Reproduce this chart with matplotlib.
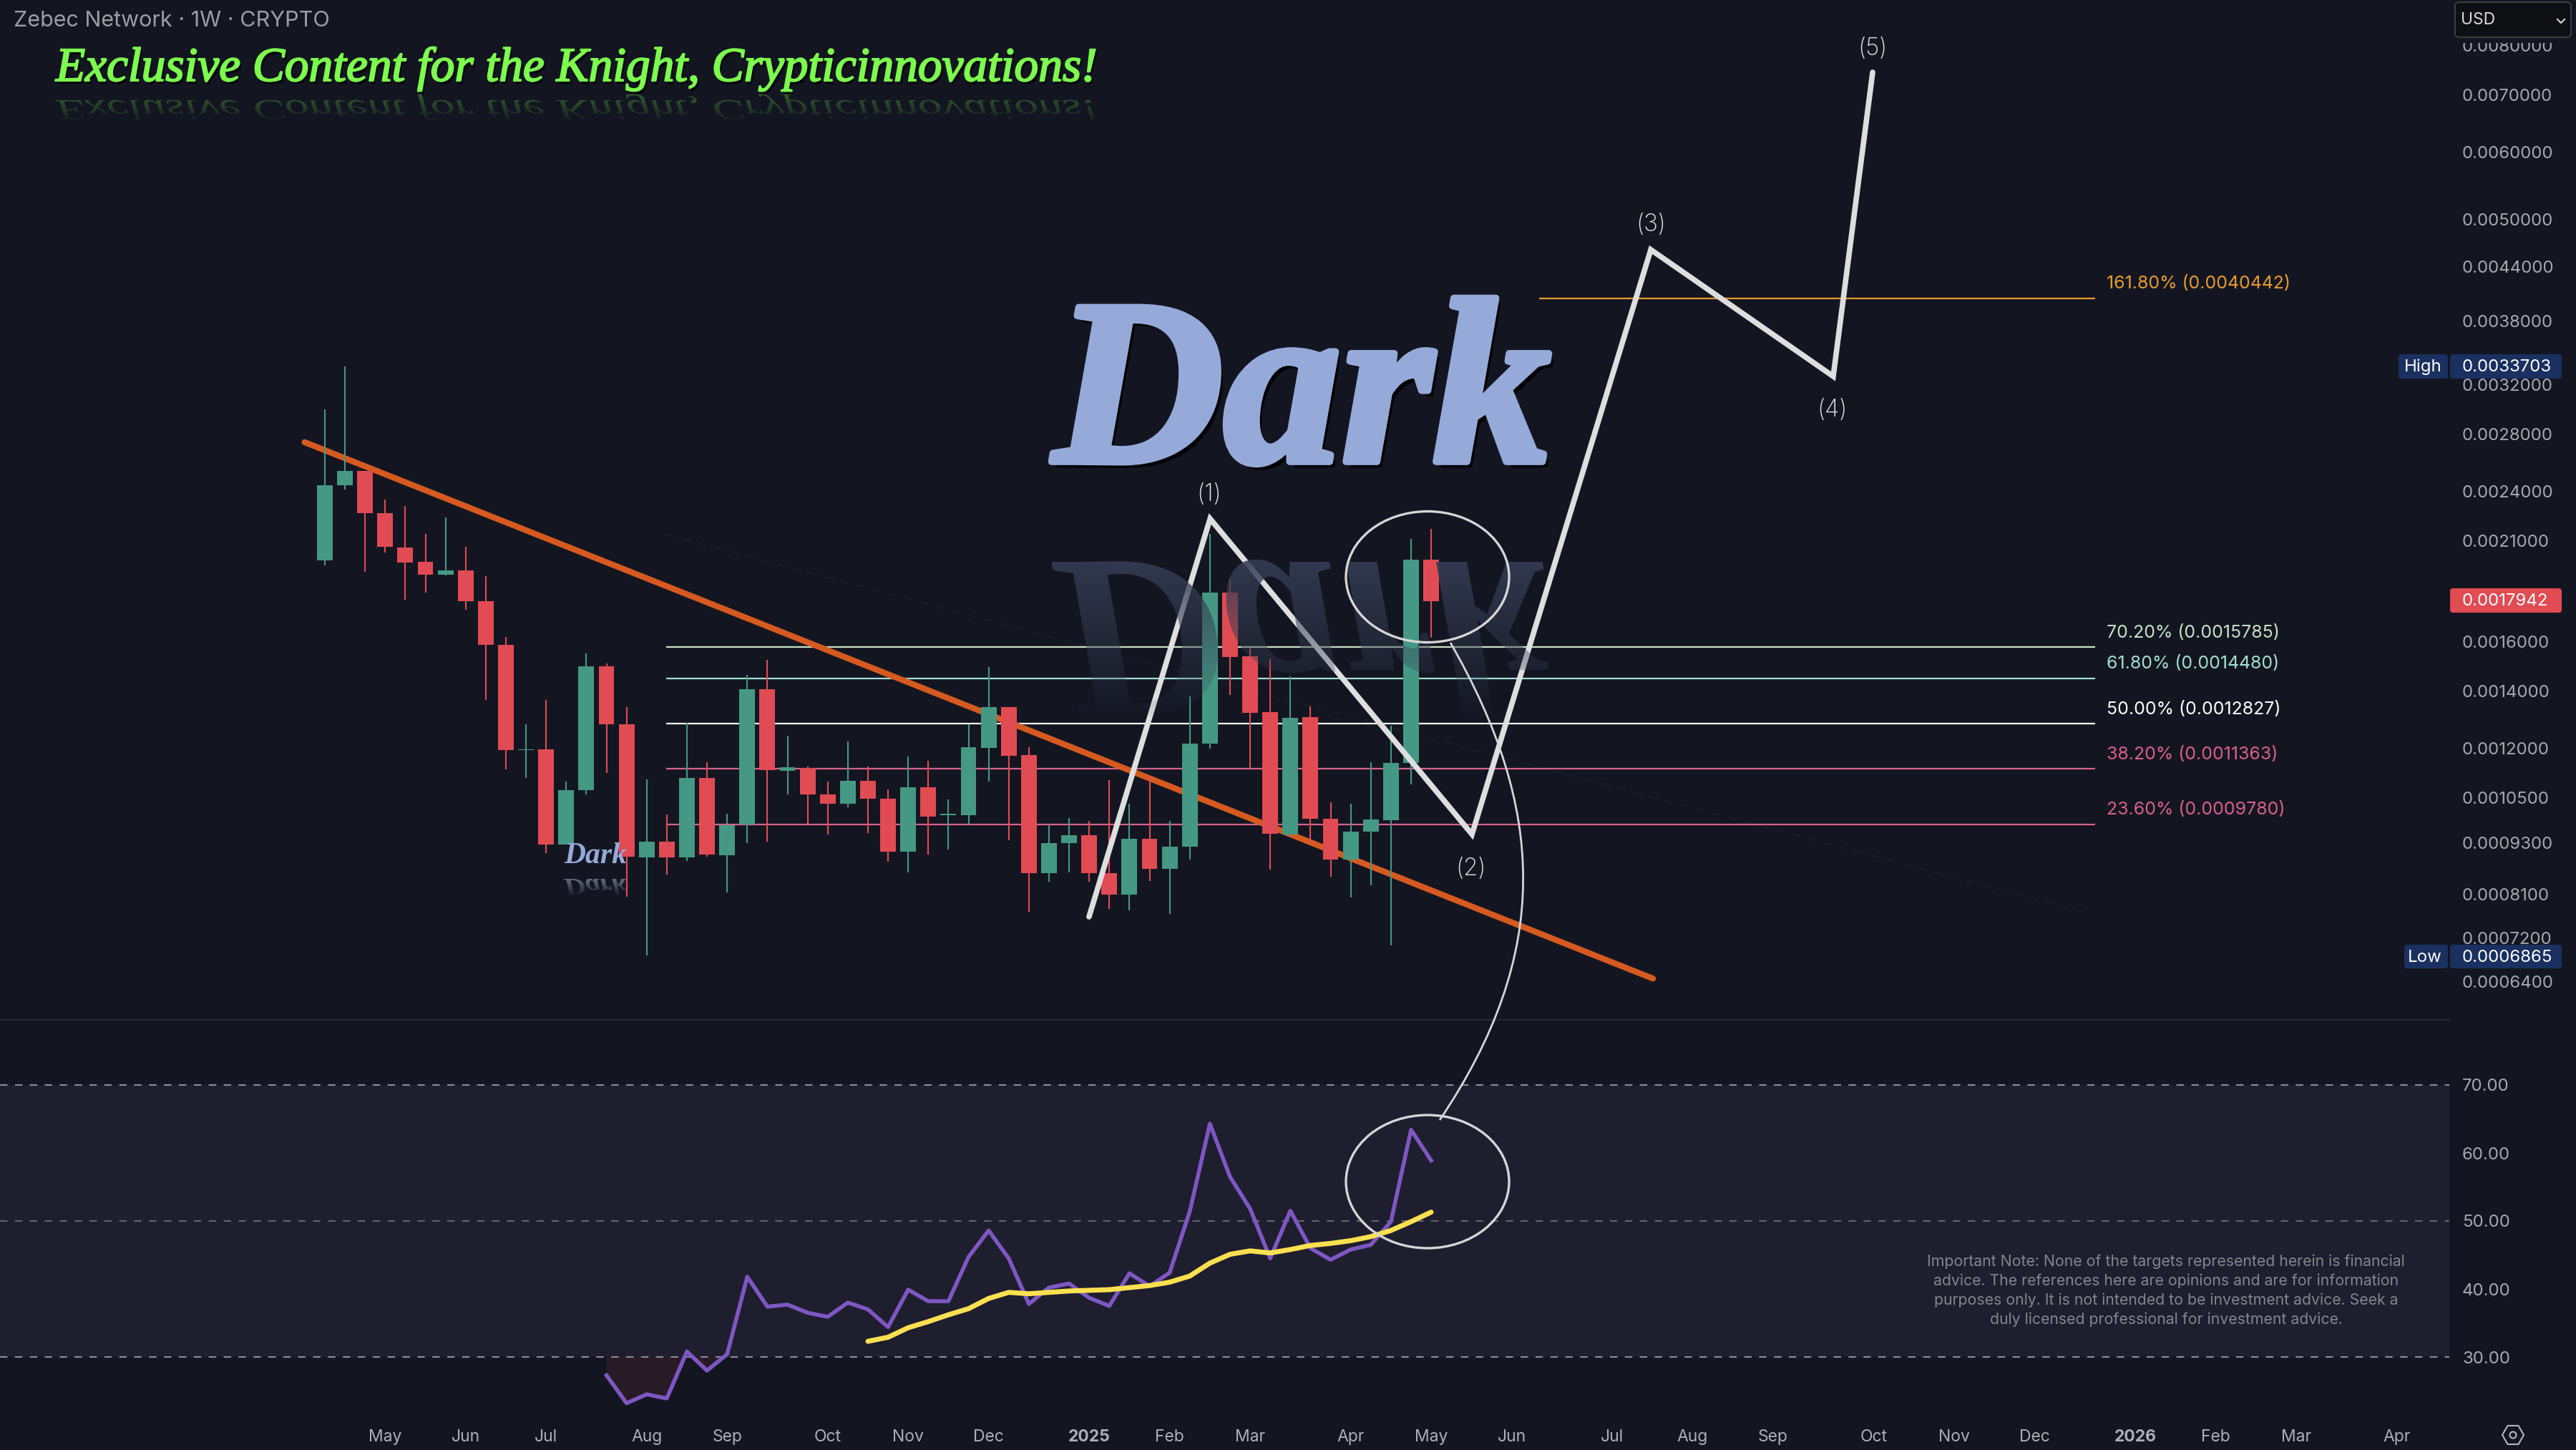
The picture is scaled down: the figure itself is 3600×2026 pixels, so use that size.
import numpy as np
import matplotlib
matplotlib.use('Agg')
import matplotlib.pyplot as plt
import matplotlib.patheffects as pe
from matplotlib.font_manager import FontProperties
from matplotlib.patches import Ellipse, FancyBboxPatch, PathPatch, Rectangle, RegularPolygon, Circle
from matplotlib.path import Path
from matplotlib.text import TextPath
from matplotlib.transforms import Affine2D
from matplotlib.colors import to_rgb

plt.rcParams['font.family'] = ['Inter', 'DejaVu Sans']

# weekly candles, prices in units of 0.0001
high = [29.97,33.64,25.38,23.49,23.1,21.42,22.37,20.68,19.09,16.2,12.81,13.68,10.98,15.5,15.08,13.42,11.03,10.04,12.85,11.56,10.06,14.63,15.25,12.42,11.43,10.98,12.22,11.43,10.75,11.74,11.6,10.45,12.81,14.95,13.41,12.04,9.78,9.94,9.87,11.02,10.33,11.14,9.87,13.8,21.4,18.95,15.72,15.28,14.58,13.45,10.38,10.33,11.56,12.77,21.13,21.69]
body_top = [24.42,25.38,25.38,22.62,20.63,19.85,19.41,19.41,17.84,15.88,11.97,11.97,10.72,14.99,14.98,12.8,9.34,9.34,11.09,11.09,9.75,14.09,14.09,11.4,11.38,10.61,10.99,11.0,10.48,10.81,10.81,10.06,12.03,13.41,13.41,11.78,9.3,9.49,9.49,8.58,9.4,9.4,9.2,12.16,18.26,18.26,15.39,13.23,13.03,13.05,9.93,9.59,9.9,11.53,19.97,19.97]
body_bot = [19.94,24.42,22.62,20.66,19.8,19.18,19.18,17.84,15.88,11.95,11.95,9.26,9.26,10.72,12.8,8.96,8.94,8.94,8.94,9.01,9.0,9.77,11.32,11.3,10.61,10.34,10.34,10.47,9.08,9.08,9.99,10.03,10.03,12.02,11.77,8.57,8.57,9.29,8.57,8.09,8.09,8.67,8.67,9.2,12.15,15.37,13.22,9.53,9.52,9.93,8.89,8.89,9.58,9.89,11.53,17.87]
low = [19.65,24.12,19.33,20.36,17.92,18.26,19.13,17.43,13.69,11.35,11.09,9.05,9.26,10.61,11.24,8.05,6.86,8.54,8.86,8.96,8.13,9.29,9.34,10.6,9.79,9.51,10.23,9.55,8.84,8.59,9.01,9.13,9.78,10.97,9.36,7.73,8.38,8.59,8.37,7.79,7.76,8.4,7.68,8.89,12.0,13.86,11.36,8.65,9.44,9.32,8.49,8.02,8.3,7.05,10.9,16.18]
bullish = [0,1,6,10,12,13,16,18,20,21,23,26,29,31,32,33,36,37,40,42,43,44,48,51,52,53,54]

rsi_start = 14
rsi = [27.3,23.2,24.5,23.9,30.8,28.0,30.4,41.8,37.4,37.7,36.5,35.9,38.0,37.0,34.4,39.9,38.2,38.2,44.7,48.6,44.5,37.8,40.2,40.8,38.7,37.5,42.3,40.4,42.4,51.4,64.3,56.5,51.8,44.5,51.5,46.0,44.3,45.8,46.5,49.9,63.4,58.9]
ma_start = 27
rsi_ma = [32.3,32.9,34.3,35.2,36.2,37.1,38.6,39.5,39.3,39.5,39.7,39.8,39.9,40.2,40.5,41.0,41.9,43.8,45.1,45.6,45.3,45.8,46.4,46.7,47.1,47.7,48.6,49.9,51.3]

wave_x = [37.99,44.01,57.03,65.92,74.99,76.95]
wave_y = [7.62,22.3,9.52,46.09,32.75,74.39]
wave_labels = ['(1)','(2)','(3)','(4)','(5)']
trend_x = [-1.01,66.03]
trend_y = [27.42,6.45]
faint_x = [16.97,87.9]
faint_y = [21.37,7.67]

fib_labels = ['161.80%','70.20%','61.80%','50.00%','38.20%','23.60%']
fib_prices = [0.0040442,0.0015785,0.0014480,0.0012827,0.0011363,0.0009780]
fib_colors = ['#e89a2e','#c8e2c6','#a3dfd2','#ffffff','#d9608c','#d9608c']
fib_text_y = [394,882,925,989,1052,1129]

price_ticks = [0.008,0.007,0.006,0.005,0.0044,0.0038,0.0032,0.0028,0.0024,0.0021,0.0016,0.0014,0.0012,0.00105,0.00093,0.00081,0.00072,0.00064]
rsi_ticks = [30,40,50,60,70]
month_pos = [3,7,11,16,20,25,29,33,38,42,46,51,55,59,64,68,72,77,81,85,90,94,98,103]
month_labels = ['May','Jun','Jul','Aug','Sep','Oct','Nov','Dec','2025','Feb','Mar','Apr','May','Jun','Jul','Aug','Sep','Oct','Nov','Dec','2026','Feb','Mar','Apr']

note = ('Important Note: None of the targets represented herein is financial\n'
        'advice. The references here are opinions and are for information\n'
        'purposes only. It is not intended to be investment advice. Seek a\n'
        'duly licensed professional for investment advice.')

BG = '#131621'
GREEN = '#459883'
RED = '#e14b53'
W, H = 3600, 2026
RIGHT = 3423
PANE = 1425
BOTTOM = 1980

fig = plt.figure(figsize=(36, 20.26), dpi=100, facecolor=BG)
ax = fig.add_axes([0, 1 - PANE / H, RIGHT / W, PANE / H], facecolor=BG)
ax2 = fig.add_axes([0, 1 - BOTTOM / H, RIGHT / W, (BOTTOM - PANE) / H], facecolor=BG)
xlim = (-16.15, 105.62)

# price pane
idx = np.arange(len(high))
top = np.array(body_top) * 1e-4
bot = np.array(body_bot) * 1e-4
colors = [GREEN if i in bullish else RED for i in idx]
ax.vlines(idx, np.array(low) * 1e-4, np.array(high) * 1e-4, colors=colors, lw=1.5, zorder=3)
ax.bar(idx, top - bot, bottom=bot, width=0.78, color=colors, zorder=3.1)

for i in range(len(fib_prices)):
    x0 = 60.37 if i == 0 else 16.97
    ax.plot([x0, 88], [fib_prices[i]] * 2, color=fib_colors[i], lw=1.6, zorder=1, solid_capstyle='butt')

ax.plot(faint_x, np.array(faint_y) * 1e-4, color='#1a1e29', lw=1.5, ls=(0, (6, 5)), zorder=0.5)
ax.plot(trend_x, np.array(trend_y) * 1e-4, color='#d65a20', lw=6, solid_capstyle='round', zorder=2)
ax.plot(wave_x, np.array(wave_y) * 1e-4, color='#dedede', lw=5.5, solid_capstyle='round', solid_joinstyle='miter', zorder=4)

ax.set_yscale('log')
ax.set_xlim(xlim)
ax.set_ylim(0.000577, 0.00904)
ax.yaxis.tick_right()
ax.set_yticks(price_ticks)
ax.set_yticklabels(['%.7f' % t for t in price_ticks])
ax.minorticks_off()
ax.tick_params(axis='y', length=0, pad=13, labelsize=17.3, labelcolor='#a6a8b0')
ax.set_xticks([])
for s in ax.spines.values():
    s.set_visible(False)

# rsi pane
ax2.axhspan(30, 70, color='#1e1e2f', lw=0, zorder=0)
for lvl, c in [(70, '#8b8d96'), (50, '#62646e'), (30, '#8b8d96')]:
    ax2.axhline(lvl, color=c, lw=1.5, ls=(0, (5, 5)), zorder=1)
rsi_x = np.arange(len(rsi)) + rsi_start
ax2.fill_between(rsi_x, rsi, 30, where=np.array(rsi) < 30, interpolate=True, color='#e14b53', alpha=0.1, lw=0, zorder=1)
ax2.plot(rsi_x, rsi, color='#7e57c2', lw=4, zorder=2)
ax2.plot(np.arange(len(rsi_ma)) + ma_start, rsi_ma, color='#ffe04f', lw=5, zorder=3, solid_capstyle='round')
ax2.set_xlim(xlim)
ax2.set_ylim(30 - (BOTTOM - 1896) / 9.5, 70 + (1516 - PANE) / 9.5)
ax2.yaxis.tick_right()
ax2.set_yticks(rsi_ticks)
ax2.set_yticklabels(['%.2f' % t for t in rsi_ticks])
ax2.set_xticks(month_pos)
ax2.set_xticklabels(month_labels)
ax2.tick_params(axis='y', length=0, pad=13, labelsize=17.3, labelcolor='#a6a8b0')
ax2.tick_params(axis='x', length=0, pad=12, labelsize=16.5, labelcolor='#adafb8')
for lab in ax2.get_xticklabels():
    if lab.get_text() in ('2025', '2026'):
        lab.set_fontweight('bold')
for s in ax2.spines.values():
    s.set_visible(False)

# overlay in picture pixels for the drawn annotations and labels
ov = fig.add_axes([0, 0, 1, 1], facecolor='none', zorder=5)
ov.set_xlim(0, W)
ov.set_ylim(H, 0)
ov.axis('off')


def reflect(txt, size_pt, prop, x, y0, yscale, rgb, alpha, fade):
    # mirrored copy of a word that fades out downwards
    tp = TextPath((0, 0), txt, size=size_pt * 100 / 72, prop=prop)
    ext = tp.get_extents()
    patch = PathPatch(tp, transform=Affine2D().scale(1, yscale).translate(x, y0) + ov.transData, fc='none', ec='none', lw=0)
    ov.add_patch(patch)
    grad = np.zeros((256, 2, 4))
    grad[..., :3] = to_rgb(rgb)
    grad[..., 3] = np.linspace(alpha, 0, 256)[:, None]
    y_top = y0 + ext.y0 * yscale
    im = ov.imshow(grad, extent=(x + ext.x0, x + ext.x1, y_top + fade, y_top), origin='upper', aspect='auto', zorder=1)
    im.set_clip_path(patch)
    ov.set_xlim(0, W)
    ov.set_ylim(H, 0)


dark_font = dict(family='Liberation Serif', style='italic', weight='bold')
banner_font = dict(family='Liberation Serif', style='italic')
banner = 'Exclusive Content for the Knight, Crypticinnovations!'

reflect('Dark', 237, FontProperties(**dark_font), 1472, 785, 1.0, '#363d54', 0.9, 230)
ov.text(1472, 645, 'Dark', color='#96aad9', fontsize=237, va='baseline', ha='left', zorder=6, fontdict=dark_font,
        path_effects=[pe.SimplePatchShadow(offset=(5, -6), shadow_rgbFace='black', alpha=0.9),
                      pe.withStroke(linewidth=7, foreground='#96aad9')])

reflect('Dark', 30, FontProperties(**dark_font), 788, 1228, 0.8, '#8a94b0', 0.7, 24)
ov.text(788, 1206, 'Dark', color='#96aad9', fontsize=30, va='baseline', ha='left', zorder=6, fontdict=dark_font)

reflect(banner, 48.5, FontProperties(**banner_font), 78, 140, 0.6, '#7dff4e', 0.3, 42)
ov.text(78, 113, banner, color='#7dff4e', fontsize=48.5, va='baseline', ha='left', zorder=6, fontdict=banner_font,
        path_effects=[pe.SimplePatchShadow(offset=(2, -3), shadow_rgbFace='black', alpha=0.8),
                      pe.withStroke(linewidth=1.5, foreground='#7dff4e')])

ov.text(19, 29, 'Zebec Network · 1W · CRYPTO', color='#9b9da6', fontsize=22, va='center', ha='left')

ov.plot([0, RIGHT], [PANE, PANE], color='#262a35', lw=1.5)
for cy, h in [(806, 183), (1651, 186)]:
    ov.add_patch(Ellipse((1995, cy), 228, h, fc='none', ec='#d6d6d6', lw=2.4, zorder=7))
conn = Path([(2027, 898), (2160, 1130), (2170, 1330), (2012, 1565)], [Path.MOVETO, Path.CURVE4, Path.CURVE4, Path.CURVE4])
ov.add_patch(PathPatch(conn, fc='none', ec='#d6d6d6', lw=2, zorder=7))

for i, (px, py) in enumerate([(1690, 691), (2055, 1214), (2307, 314), (2560, 573), (2617, 68)]):
    ov.text(px, py, wave_labels[i], color='#e2e2e2', fontsize=24, ha='center', va='center', fontweight='light', zorder=7)

for i in range(len(fib_labels)):
    ov.text(2944, fib_text_y[i] + 2, '%s (%.7f)' % (fib_labels[i], fib_prices[i]), color=fib_colors[i], fontsize=17.9, va='center', ha='left')


def tag(x0, x1, y0, y1, c, txt, tx, ha='left'):
    ov.add_patch(FancyBboxPatch((x0, y0), x1 - x0, y1 - y0, boxstyle='round,pad=0,rounding_size=4', fc=c, ec='none', zorder=8))
    ov.text(tx, (y0 + y1) / 2 + 1, txt, color='white', fontsize=17.3, va='center', ha=ha, zorder=9)


tag(3352, 3421, 495, 529, '#1a3060', 'High', 3413, 'right')
tag(3424, 3580, 495, 529, '#1a3060', '0.0033703', 3441)
tag(3360, 3421, 1320, 1353, '#1a3060', 'Low', 3413, 'right')
tag(3424, 3580, 1320, 1353, '#1a3060', '0.0006865', 3441)
tag(3424, 3580, 822, 856, RED, '0.0017942', 3441)

# currency box hides the top of the scale
ov.add_patch(Rectangle((3424, 0), 176, 60, fc=BG, ec='none', zorder=8))
ov.add_patch(FancyBboxPatch((3431, 3), 162, 49, boxstyle='round,pad=0,rounding_size=6', fc='#0e0f12', ec='#3b3d42', lw=1.5, zorder=9))
ov.text(3439, 28, 'USD', color='#d8d8d8', fontsize=16.5, va='center', ha='left', zorder=10)
ov.plot([3574, 3579, 3584], [27, 32, 27], color='#d8d8d8', lw=1.5, zorder=10)

ov.text(3027, 1803, note, color='#84858a', fontsize=15.3, ha='center', va='center', linespacing=1.4, multialignment='center')

ov.add_patch(RegularPolygon((3512, 2005), 6, radius=15, orientation=np.pi / 2, fc='none', ec='#b5b7bf', lw=1.5))
ov.add_patch(Circle((3512, 2005), 4.5, fc='none', ec='#b5b7bf', lw=1.5))
ov.set_xlim(0, W)
ov.set_ylim(H, 0)

fig.savefig('out.png', dpi=100, facecolor=BG)
